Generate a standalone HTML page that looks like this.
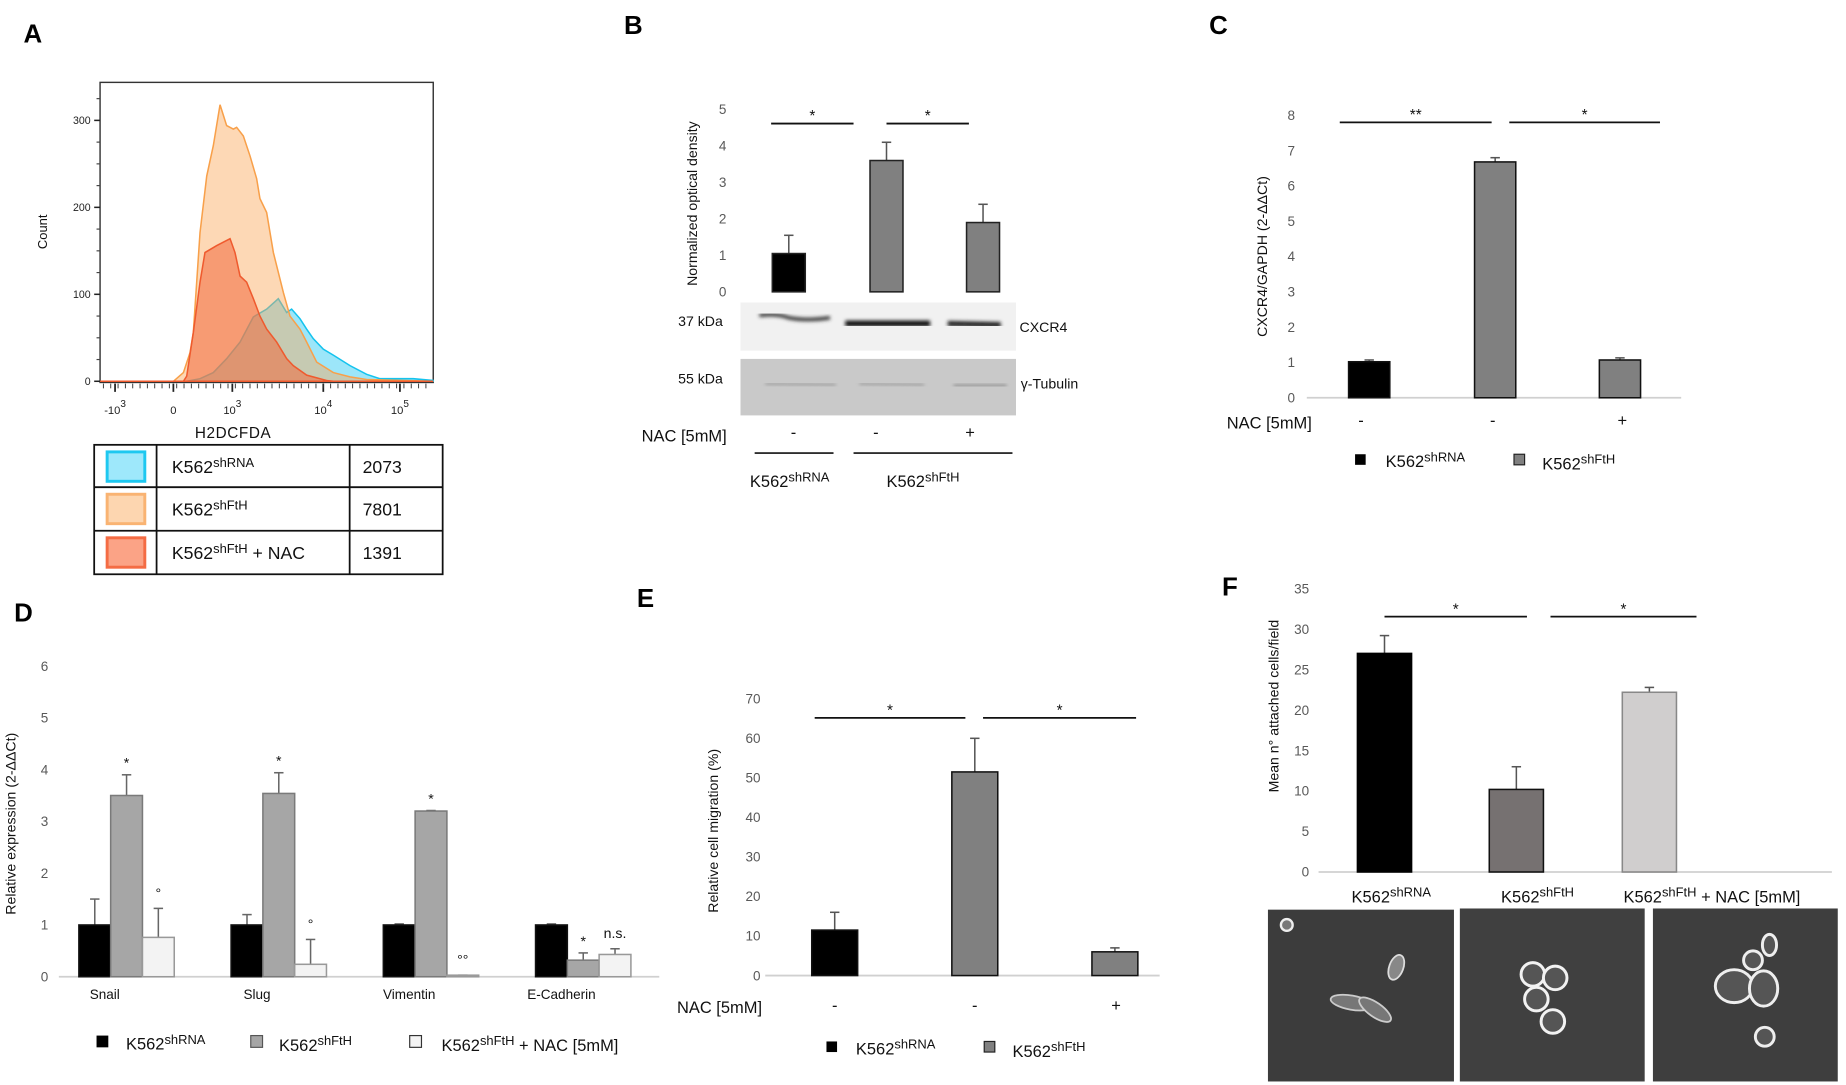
<!DOCTYPE html>
<html><head><meta charset="utf-8">
<style>
html,body{margin:0;padding:0;background:#fff;}
svg{display:block;font-family:"Liberation Sans",Arial,sans-serif;}
.tick{fill:#595959;font-size:11.5px;}
.title{fill:#111;font-size:12px;}
.big{fill:#111;font-size:14px;}
.letter{font-weight:bold;font-size:22px;fill:#000;}
</style></head>
<body>
<svg id="fig" width="1846" height="1085" viewBox="0 0 1568 922" preserveAspectRatio="none" xmlns="http://www.w3.org/2000/svg">
<defs>
<filter id="blur1"><feGaussianBlur stdDeviation="1.6"/></filter>
</defs>
<text class="letter" x="20" y="36">A</text>
<text class="letter" x="530" y="29">B</text>
<text class="letter" x="1027" y="29">C</text>
<text class="letter" x="12" y="528">D</text>
<text class="letter" x="541" y="516">E</text>
<text class="letter" x="1038" y="506">F</text>

<g id="panelA">
  <rect x="85" y="70" width="283" height="255" fill="none" stroke="#333" stroke-width="1.2"/>
  <text class="title" transform="translate(40,197) rotate(-90)" text-anchor="middle" style="font-size:11px">Count</text>
  <text x="198" y="372" text-anchor="middle" style="font-size:13px;letter-spacing:0.5px" fill="#111">H2DCFDA</text>
</g>
<g id="tableA">
  <rect x="80" y="378" width="296" height="110" fill="none" stroke="#111" stroke-width="1.5"/>
  <line x1="80" y1="414" x2="376" y2="414" stroke="#111" stroke-width="1.5"/>
  <line x1="80" y1="451" x2="376" y2="451" stroke="#111" stroke-width="1.5"/>
  <line x1="133" y1="378" x2="133" y2="488" stroke="#111" stroke-width="1.5"/>
  <line x1="297" y1="378" x2="297" y2="488" stroke="#111" stroke-width="1.5"/>
  <rect x="91" y="384" width="32" height="25" fill="#9ee8fb" stroke="#1ec8f0" stroke-width="2.5"/>
  <rect x="91" y="420" width="32" height="25" fill="#fdd6b0" stroke="#f9b372" stroke-width="2.5"/>
  <rect x="91" y="457" width="32" height="25" fill="#fba386" stroke="#f46c44" stroke-width="2.5"/>
  <text class="big" x="146" y="402" style="font-size:15px">K562<tspan font-size="11" dy="-5">shRNA</tspan></text>
  <text class="big" x="146" y="438" style="font-size:15px">K562<tspan font-size="11" dy="-5">shFtH</tspan></text>
  <text class="big" x="146" y="475" style="font-size:15px">K562<tspan font-size="11" dy="-5">shFtH</tspan><tspan dy="5"> + NAC</tspan></text>
  <text class="big" x="308" y="402" style="font-size:15px">2073</text>
  <text class="big" x="308" y="438" style="font-size:15px">7801</text>
  <text class="big" x="308" y="475" style="font-size:15px">1391</text>
</g>

<g id="blotB">
  <rect x="629" y="257" width="234" height="41" fill="#f1f1f1"/>
  <g filter="url(#blur1)">
    <path d="M645 268 Q660 266 670 270 Q685 273 705 270" stroke="#333" stroke-width="3" fill="none"/>
    <path d="M718 275 L790 275" stroke="#111" stroke-width="5"/>
    <path d="M805 275 L850 276" stroke="#1a1a1a" stroke-width="4.5"/>
  </g>
  <rect x="629" y="305" width="234" height="48" fill="#c9c9c9"/>
  <g filter="url(#blur1)" opacity="0.6">
    <path d="M650 326 L710 327" stroke="#888" stroke-width="2.5"/>
    <path d="M730 326 L785 327" stroke="#888" stroke-width="2.5"/>
    <path d="M810 328 L855 328" stroke="#777" stroke-width="3"/>
  </g>
  <text class="title" x="576" y="277" style="font-size:12px">37 kDa</text>
  <text class="title" x="576" y="326" style="font-size:12px">55 kDa</text>
  <text class="title" x="866" y="282" style="font-size:12px">CXCR4</text>
  <text class="title" x="867" y="330" style="font-size:12px">γ-Tubulin</text>
  <text class="big" x="545" y="375">NAC [5mM]</text>
  <text class="big" x="674" y="372" text-anchor="middle">-</text>
  <text class="big" x="744" y="372" text-anchor="middle">-</text>
  <text class="big" x="824" y="372" text-anchor="middle">+</text>
  <line x1="641" y1="385" x2="708" y2="385" stroke="#111" stroke-width="1.3"/>
  <line x1="725" y1="385" x2="860" y2="385" stroke="#111" stroke-width="1.3"/>
  <text class="big" x="637" y="414">K562<tspan font-size="11" dy="-5">shRNA</tspan></text>
  <text class="big" x="753" y="414">K562<tspan font-size="11" dy="-5">shFtH</tspan></text>
  <text class="title" transform="translate(592,173) rotate(-90)" text-anchor="middle">Normalized optical density</text>
</g>

<g>
  <text class="title" transform="translate(1076,218) rotate(-90)" text-anchor="middle">CXCR4/GAPDH (2-ΔΔCt)</text>
  <text class="big" x="1042" y="364">NAC [5mM]</text>
  <text class="big" x="1156" y="362" text-anchor="middle">-</text>
  <text class="big" x="1268" y="362" text-anchor="middle">-</text>
  <text class="big" x="1378" y="362" text-anchor="middle">+</text>
  <rect x="1151" y="386" width="9" height="9" fill="#000"/>
  <text class="big" x="1177" y="397">K562<tspan font-size="11" dy="-5">shRNA</tspan></text>
  <rect x="1286" y="386" width="9" height="9" fill="#808080" stroke="#222"/>
  <text class="big" x="1310" y="399">K562<tspan font-size="11" dy="-5">shFtH</tspan></text>
</g>

<g>
  <text class="title" transform="translate(13,700) rotate(-90)" text-anchor="middle">Relative expression  (2-ΔΔCt)</text>
  <rect x="82" y="880" width="10" height="10" fill="#000"/>
  <text class="big" x="107" y="892">K562<tspan font-size="11" dy="-5">shRNA</tspan></text>
  <rect x="213" y="880" width="10" height="10" fill="#a6a6a6" stroke="#555"/>
  <text class="big" x="237" y="893">K562<tspan font-size="11" dy="-5">shFtH</tspan></text>
  <rect x="348" y="880" width="10" height="10" fill="#f4f4f4" stroke="#333"/>
  <text class="big" x="375" y="893">K562<tspan font-size="11" dy="-5">shFtH</tspan><tspan dy="5"> + NAC [5mM]</tspan></text>
</g>

<g>
  <text class="title" transform="translate(610,706) rotate(-90)" text-anchor="middle">Relative cell migration (%)</text>
  <text class="big" x="575" y="861">NAC [5mM]</text>
  <text class="big" x="709" y="859" text-anchor="middle">-</text>
  <text class="big" x="828" y="859" text-anchor="middle">-</text>
  <text class="big" x="948" y="859" text-anchor="middle">+</text>
  <rect x="702" y="885" width="9" height="9" fill="#000"/>
  <text class="big" x="727" y="896">K562<tspan font-size="11" dy="-5">shRNA</tspan></text>
  <rect x="836" y="885" width="9" height="9" fill="#808080" stroke="#222"/>
  <text class="big" x="860" y="898">K562<tspan font-size="11" dy="-5">shFtH</tspan></text>
</g>

<g>
  <text class="title" transform="translate(1086,600) rotate(-90)" text-anchor="middle">Mean n° attached  cells/field</text>
  <text class="big" x="1148" y="767">K562<tspan font-size="11" dy="-5">shRNA</tspan></text>
  <text class="big" x="1275" y="767">K562<tspan font-size="11" dy="-5">shFtH</tspan></text>
  <text class="big" x="1379" y="767">K562<tspan font-size="11" dy="-5">shFtH</tspan><tspan dy="5"> + NAC [5mM]</tspan></text>
  <g>
    <rect x="1077" y="773" width="158" height="146" fill="#3c3c3c"/>
    <circle cx="1093" cy="786" r="5" fill="#777" stroke="#eee" stroke-width="2"/>
    <ellipse cx="1186" cy="822" rx="6" ry="11" transform="rotate(20 1186 822)" fill="#888" stroke="#ddd" stroke-width="1.5"/>
    <ellipse cx="1148" cy="852" rx="18" ry="6" transform="rotate(10 1148 852)" fill="#777" stroke="#ccc" stroke-width="1.5"/>
    <ellipse cx="1168" cy="858" rx="16" ry="6" transform="rotate(35 1168 858)" fill="#777" stroke="#ccc" stroke-width="1.5"/>
  </g>
  <g>
    <rect x="1240" y="772" width="157" height="147" fill="#404040"/>
    <g fill="#555" stroke="#f2f2f2" stroke-width="2.5">
      <circle cx="1302" cy="828" r="10"/><circle cx="1321" cy="831" r="10"/>
      <circle cx="1305" cy="849" r="10"/><circle cx="1319" cy="868" r="10"/>
    </g>
  </g>
  <g>
    <rect x="1404" y="772" width="157" height="147" fill="#3e3e3e"/>
    <g fill="#555" stroke="#eee" stroke-width="2.5">
      <ellipse cx="1473" cy="838" rx="16" ry="14"/><ellipse cx="1498" cy="840" rx="12" ry="15"/>
      <circle cx="1489" cy="816" r="8"/><ellipse cx="1503" cy="803" rx="6" ry="9"/>
      <circle cx="1499" cy="881" r="8"/>
    </g>
  </g>
</g>
</svg>

<script>
const SVGNS = "http://www.w3.org/2000/svg";
const fig = document.getElementById('fig');
function mk(tag, parent, attrs) {
  const e = document.createElementNS(SVGNS, tag);
  for (const k in attrs) e.setAttribute(k, attrs[k]);
  (parent || fig).appendChild(e);
  return e;
}

const blueChannels = [0,260,300,340,380,420,460,500,535,560,575,600,620,640,670,700,750,800,840,940,1000];
const blueCounts   = [0,0,3,10,26,45,74,83,95,79,83,72,60,49,37,30,18,8,3,3,1];
const orangeChannels = [0,220,250,270,280,300,320,340,360,380,400,410,430,450,470,480,500,520,550,570,600,620,650,700,750,800,1000];
const orangeCounts   = [0,0,10,33,56,171,236,271,318,294,290,292,282,259,233,210,194,148,102,75,60,45,22,10,5,2,0];
const redChannels = [0,250,260,280,300,315,350,390,405,420,440,460,480,500,530,560,580,620,680,700,1000];
const redCounts   = [0,0,6,56,114,148,156,164,148,121,114,95,75,60,45,26,18,7,1,0,0];
const countTicks = [0,100,200,300];
const decadeLabels = ["-10","0","10","10","10"];
const decadeExps = ["3","","3","4","5"];
const decadeChannels = [45,220,397,670,900];

const A = {x0:85, w:283, zero:324, ppc:0.739};
const ax = c => A.x0 + c/1000*A.w;
const ay = v => A.zero - v*A.ppc;
const gA = document.getElementById('panelA');

function histPath(ch, ct) {
  let d = 'M' + ax(ch[0]) + ' ' + ay(0);
  for (let i = 0; i < ch.length; i++) d += ' L' + ax(ch[i]).toFixed(1) + ' ' + ay(ct[i]).toFixed(1);
  d += ' L' + ax(ch[ch.length-1]) + ' ' + ay(0) + ' Z';
  return d;
}
const series = [
  [blueChannels, blueCounts, '#39cdf3', 0.5, '#14c3ee', 'histogram-shrna'],
  [orangeChannels, orangeCounts, '#fba85c', 0.45, '#f8a04a', 'histogram-shfth'],
  [redChannels, redCounts, '#f26a3d', 0.55, '#ef5a2e', 'histogram-shfth-nac']
];
series.forEach(s => {
  const p = mk('path', gA, {d: histPath(s[0], s[1]), fill: s[2], 'fill-opacity': s[3], stroke: s[4], 'stroke-width': 1.3});
  
  
});
countTicks.forEach(v => {
  mk('line', gA, {x1: A.x0-5, x2: A.x0, y1: ay(v), y2: ay(v), stroke: '#222', 'stroke-width': 1.3});
  const t = mk('text', gA, {x: A.x0-8, y: ay(v)+3, 'text-anchor': 'end', 'font-size': 9, fill: '#222'});
  t.textContent = v;
  
  
});
for (let v = 25; v <= 325; v += 25) if (v % 100) mk('line', gA, {x1: A.x0-3, x2: A.x0, y1: ay(v), y2: ay(v), stroke: '#444', 'stroke-width': 1});
decadeChannels.forEach((c, i) => {
  mk('line', gA, {x1: ax(c), x2: ax(c), y1: 326, y2: 333, stroke: '#222', 'stroke-width': 1.5});
  const t = mk('text', gA, {x: ax(c), y: 352, 'text-anchor': 'middle', 'font-size': 9.5, fill: '#222'});
  t.textContent = decadeLabels[i];
  if (decadeExps[i]) { const s = mk('tspan', t, {dy: -6, 'font-size': 8.5}); s.textContent = decadeExps[i]; }
  
  
});
for (let c = 10; c < 1000; c += 22) mk('line', gA, {x1: ax(c), x2: ax(c), y1: 326, y2: 330, stroke: '#333', 'stroke-width': 0.8});

function barChart(cfg) {
  const g = mk('g', fig, {});
  
  
  const y = v => cfg.zero - v*cfg.ppu;
  if (cfg.axisLine) mk('line', g, {x1: cfg.axisLine[0], x2: cfg.axisLine[1], y1: cfg.zero, y2: cfg.zero, stroke: '#d0d0d0', 'stroke-width': 1.5});
  cfg.ticks.forEach(v => {
    const t = mk('text', g, {x: cfg.tickX, y: y(v)+4, 'text-anchor': 'end', class: 'tick'});
    t.textContent = v;
    
    
  });
  cfg.bars.forEach(b => {
    const top = y(b.v);
    mk('line', g, {x1: b.x, x2: b.x, y1: top, y2: y(b.v + b.e), stroke: cfg.errColor || '#555', 'stroke-width': 1.3});
    mk('line', g, {x1: b.x-4, x2: b.x+4, y1: y(b.v + b.e), y2: y(b.v + b.e), stroke: cfg.errColor || '#555', 'stroke-width': 1.3});
    const r = mk('rect', g, {x: b.x - b.w/2, y: top, width: b.w, height: Math.max(cfg.zero - top, 0.8), fill: b.fill, stroke: b.stroke, 'stroke-width': b.sw || 1.3});
    
    
    if (b.ann) {
      const t = mk('text', g, {x: b.x, y: y(b.v + b.e) - (b.annOff || 6), 'text-anchor': 'middle', 'font-size': 12, fill: '#111'});
      t.textContent = b.ann;
      
      
    }
  });
  (cfg.sig || []).forEach(s => {
    mk('line', g, {x1: s[0], x2: s[1], y1: s[2], y2: s[2], stroke: '#111', 'stroke-width': 1.5});
    const t = mk('text', g, {x: (s[0]+s[1])/2, y: s[2]-2, 'text-anchor': 'middle', 'font-size': 13, fill: '#111'});
    t.textContent = s[3];
    
    
  });
  return y;
}

const bGroups = ['shRNA','shFtH','shFtH+NAC'];
const bValues = [1.05, 3.6, 1.9];
const bErrors = [0.5, 0.5, 0.5];
const bTicks = [0,1,2,3,4,5];
const bPos = [670, 753, 835];
barChart({name:'panel-b-chart', zero:248, ppu:31, tickX:617, ticks:bTicks,
  bars: bValues.map((v,i)=>({x:bPos[i], w:28, v:v, e:bErrors[i], fill:i?'#808080':'#000', stroke:'#222', name:'bar-b-'+bGroups[i]})),
  sig: [[655,725,105,'*'],[753,823,105,'*']]});

const cGroups = ['shRNA','shFtH','shFtH+NAC'];
const cValues = [1.02, 6.68, 1.07];
const cErrors = [0.05, 0.12, 0.06];
const cTicks = [0,1,2,3,4,5,6,7,8];
const cPos = [1163, 1270, 1376];
barChart({name:'panel-c-chart', zero:338, ppu:30, tickX:1100, ticks:cTicks, axisLine:[1110,1428],
  bars: cValues.map((v,i)=>({x:cPos[i], w:35, v:v, e:cErrors[i], fill:i?'#808080':'#000', stroke:'#111', name:'bar-c-'+cGroups[i]})),
  sig: [[1138,1267,104,'**'],[1282,1410,104,'*']]});

const dGenes = ['Snail','Slug','Vimentin','E-Cadherin'];
const dShRNA = [1.0, 1.0, 1.0, 1.0];
const dShRNAErr = [0.5, 0.2, 0.02, 0.02];
const dShFtH = [3.5, 3.54, 3.2, 0.32];
const dShFtHErr = [0.4, 0.4, 0.01, 0.14];
const dNAC = [0.76, 0.24, 0.03, 0.43];
const dNACErr = [0.56, 0.48, 0.0, 0.11];
const dShFtHMarks = ['*','*','*','*'];
const dNACMarks = ['°','°','°°','n.s.'];
const dTicks = [0,1,2,3,4,5,6];
const dBars = [];
dGenes.forEach((g, i) => {
  const x0 = 67 + i*129.3;
  dBars.push({x:x0+13.5, w:27, v:dShRNA[i], e:dShRNAErr[i], fill:'#000', stroke:'#111', name:'bar-d-'+g+'-shrna'});
  dBars.push({x:x0+40.5, w:27, v:dShFtH[i], e:dShFtHErr[i], fill:'#a6a6a6', stroke:'#7a7a7a', name:'bar-d-'+g+'-shfth', ann:dShFtHMarks[i]});
  dBars.push({x:x0+67.5, w:27, v:dNAC[i], e:dNACErr[i], fill:'#f3f3f3', stroke:'#999', name:'bar-d-'+g+'-nac', ann:dNACMarks[i], annOff:9});
});
barChart({name:'panel-d-chart', zero:830, ppu:44, tickX:41, ticks:dTicks, axisLine:[50,560], bars:dBars, errColor:'#666'});
dGenes.forEach((g, i) => {
  const t = mk('text', fig, {x: 67 + i*129.3 + 22, y: 849, 'text-anchor': 'middle', 'font-size': 11.5, fill: '#111'});
  t.textContent = g;
  
  
});

const eGroups = ['shRNA','shFtH','shFtH+NAC'];
const eValues = [11.5, 51.5, 6];
const eErrors = [4.5, 8.5, 1];
const eTicks = [0,10,20,30,40,50,60,70];
const ePos = [709, 828, 947];
barChart({name:'panel-e-chart', zero:829, ppu:3.36, tickX:646, ticks:eTicks, axisLine:[650,985],
  bars: eValues.map((v,i)=>({x:ePos[i], w:39, v:v, e:eErrors[i], fill:i?'#808080':'#000', stroke:'#111', name:'bar-e-'+eGroups[i]})),
  sig: [[692,820,610,'*'],[835,965,610,'*']]});

const fGroups = ['shRNA','shFtH','shFtH+NAC'];
const fValues = [27, 10.2, 22.2];
const fErrors = [2.2, 2.8, 0.6];
const fTicks = [0,5,10,15,20,25,30,35];
const fPos = [1176, 1288, 1401];
const fFills = ['#000', '#767171', '#d0cece'];
const fStrokes = ['#000', '#111', '#888'];
barChart({name:'panel-f-chart', zero:741, ppu:6.88, tickX:1112, ticks:fTicks, axisLine:[1120,1556],
  bars: fValues.map((v,i)=>({x:fPos[i], w:46, v:v, e:fErrors[i], fill:fFills[i], stroke:fStrokes[i], name:'bar-f-'+fGroups[i]})),
  sig: [[1176,1297,524,'*'],[1317,1441,524,'*']]});
</script>
</body></html>
